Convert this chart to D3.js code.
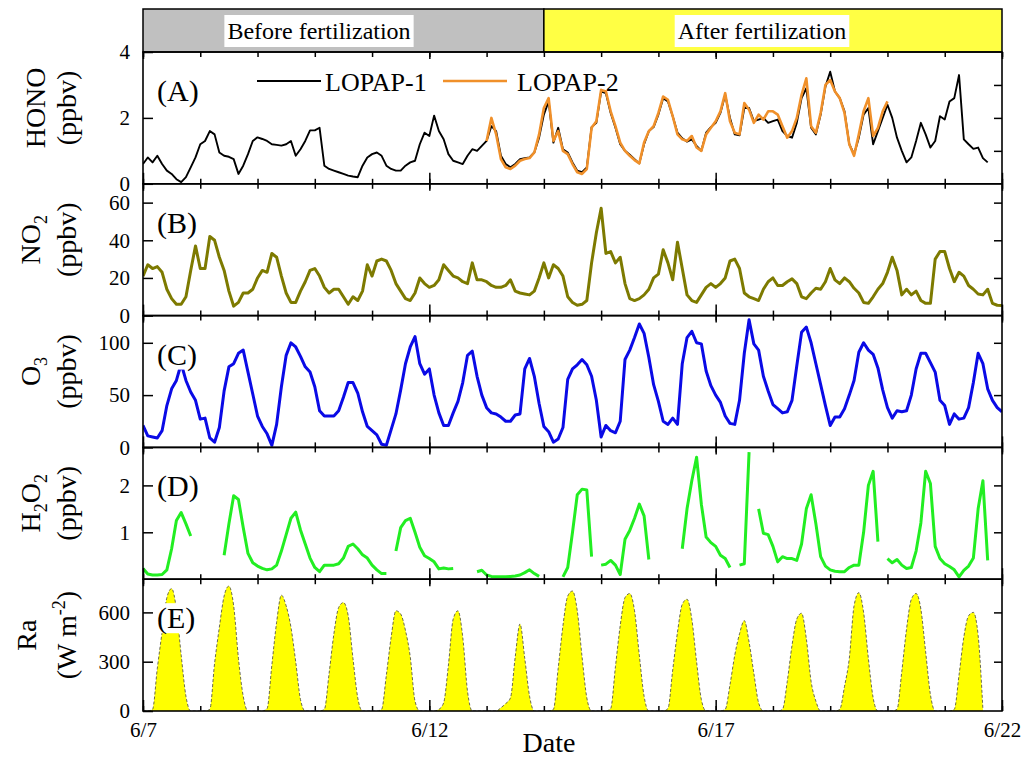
<!DOCTYPE html>
<meta charset="utf-8">
<head>
    <script type="text/javascript" src="https://cdn.jsdelivr.net/npm/d3@7/dist/d3.min.js"></script>
    <style>
        body { margin: 0; background: #fff; }
        text { font-family: "Liberation Serif", "Times New Roman", serif; fill: #000; }
    </style>
</head>
<body>
<div id="chart"></div>
<script>
    // time axis: hours since 6/7 00:00, one reading every 2 h
    var stepHours = 2;

    // HONO (ppbv), LOPAP-1
    var honoLopap1 = [
        0.6, 0.8, 0.65, 0.85, 0.6, 0.4, 0.3, 0.14, 0.05, 0.2, 0.5, 0.8,
        1.2, 1.3, 1.6, 1.5, 0.95, 0.85, 0.82, 0.75, 0.3, 0.55, 0.9, 1.3,
        1.41, 1.36, 1.3, 1.2, 1.18, 1.16, 1.2, 1.3, 0.85, 1.05, 1.3, 1.62,
        1.62, 1.7, 0.55, 0.45, 0.4, 0.35, 0.3, 0.25, 0.22, 0.2, 0.55, 0.8,
        0.9, 0.95, 0.85, 0.55, 0.45, 0.4, 0.4, 0.55, 0.65, 0.7, 1.2, 1.55,
        1.45, 2.07, 1.6, 1.35, 0.9, 0.7, 0.65, 0.6, 0.85, 1.05, 1.0, 1.15,
        1.3, 1.75, 1.6, 0.85, 0.6, 0.5, 0.6, 0.75, 0.78, 0.8, 0.95, 1.4,
        2.1, 2.5, 1.25, 1.7, 1.05, 0.95, 0.65, 0.4, 0.35, 0.5, 1.72, 1.85,
        2.8, 2.75, 2.15, 1.7, 1.2, 1.0, 0.88, 0.75, 0.62, 1.2, 1.6, 1.72,
        2.1, 2.6, 2.5, 2.05, 1.55, 1.38, 1.28, 1.35, 1.15, 1.0, 1.55, 1.72,
        1.85, 2.15, 2.7, 2.0, 1.5, 1.47, 2.3, 2.3, 1.9, 1.95, 2.0, 1.85,
        1.9, 1.95, 1.6, 1.45, 1.4, 1.85, 2.6, 2.9, 1.7, 1.5, 2.1, 2.95,
        3.4, 2.8, 2.6, 2.2, 1.2, 0.9, 1.4, 2.1, 2.3, 1.2, 1.6, 2.0,
        2.4, 2.0, 1.4, 1.0, 0.65, 0.8, 1.3, 1.85, 1.5, 1.1, 1.3, 2.05,
        1.95, 2.5, 2.6, 3.3, 1.35, 1.2, 1.06, 1.1, 0.78, 0.65, null, null,
        null
    ];

    // HONO (ppbv), LOPAP-2, starts 6/13 00:00
    var lopap2StartHour = 144;
    var honoLopap2 = [
        1.3, 2.0, 1.5, 0.75, 0.5, 0.45, 0.55, 0.7, 0.75, 0.78, 0.95, 1.5,
        2.3, 2.6, 1.3, 1.6, 1.0, 0.9, 0.6, 0.35, 0.3, 0.45, 1.7, 1.9,
        2.85, 2.8, 2.2, 1.75, 1.25, 1.0, 0.85, 0.72, 0.62, 1.25, 1.6, 1.75,
        2.15, 2.65, 2.55, 2.05, 1.5, 1.35, 1.3, 1.45, 1.1, 1.0, 1.5, 1.7,
        1.9, 2.2, 2.75, 1.9, 1.55, 1.5, 2.45, 2.25, 1.85, 2.1, 1.95, 2.2,
        2.2, 2.1, 1.75, 1.4, 1.6, 2.0, 2.7, 3.2, 1.75, 1.55, 2.15, 3.0,
        3.15, 2.8, 2.6, 2.15, 1.2, 0.85, 1.5, 2.2, 2.6, 1.45, 1.7, 2.2,
        2.5
    ];

    // NO2 (ppbv)
    var no2 = [
        21, 27, 25, 26, 23, 14, 9, 6, 6, 10, 24, 37,
        25, 25, 42, 40, 31, 24, 13, 5, 7, 12, 12, 14,
        20, 24, 23, 33, 31, 21, 12, 7, 7, 13, 18, 24,
        25, 21, 15, 12, 14, 14, 10, 6, 10, 8, 13, 27,
        21, 29, 30, 29, 24, 17, 13, 9, 8, 12, 20, 17,
        15, 16, 19, 27, 24, 21, 20, 18, 17, 28, 19, 19,
        18, 16, 15, 15, 16, 19, 13, 12, 11.5, 11, 13, 20,
        28, 20, 27, 25, 21, 10, 7, 5.5, 6, 8, 28, 44,
        57, 33, 34, 28, 31, 17, 9, 8, 9, 11, 14, 20,
        22, 35, 28, 19, 39, 25, 11, 8, 7, 11, 15, 17,
        15, 17, 20, 29, 30, 25, 12, 10, 9, 8, 14, 18,
        20, 16, 16, 18, 19.5, 17, 10, 9, 12, 14.5, 14, 18,
        25, 19, 17, 20, 18, 14.5, 12, 7, 6.5, 10, 14, 17,
        23, 31, 24, 11, 14, 11, 13, 8, 6.5, 6.5, 30, 34,
        34, 25, 18, 23, 21, 16, 14, 11.5, 11, 14, 6.5, 5.5,
        5.3
    ];

    // O3 (ppbv)
    var o3 = [
        21, 11, 10, 9, 16, 40, 56, 64, 80, 64, 53, 45,
        27, 28, 9, 5, 19, 54, 77, 80, 90, 93, 72, 51,
        30, 20, 13, 2, 22, 58, 88, 100, 96, 87, 77, 72,
        58, 35, 30, 30, 30, 35, 48, 62, 62, 52, 34, 20,
        16, 12, 3, 2, 17, 32, 55, 80, 96, 106, 80, 70,
        75, 50, 33, 21, 21, 33, 44, 62, 88, 92, 68, 50,
        38, 33, 32, 29, 25, 25, 31, 32, 75, 85, 68, 42,
        20, 15, 5, 8, 19, 65, 75, 79, 84, 79, 68, 45,
        10, 21, 16, 14, 25, 84, 93, 105, 118, 109, 86, 60,
        44, 25, 22, 28, 22, 80, 105, 111, 100, 99, 73, 59,
        50, 43, 30, 23, 22, 45, 90, 122, 99, 93, 68, 54,
        41, 37, 33, 34, 45, 78, 110, 115, 100, 80, 60, 40,
        21, 29, 29, 37, 50, 64, 91, 100, 93, 89, 76, 55,
        38, 28, 35, 34, 35, 50, 75, 90, 90, 81, 72, 45,
        40, 22, 32, 27, 28, 38, 62, 90, 80, 56, 45, 38,
        34
    ];

    // H2O2 (ppbv), null = no data
    var h2o2 = [
        0.23, 0.11, 0.09, 0.09, 0.1, 0.2, 0.65, 1.25, 1.42, 1.18, 0.92, null,
        null, null, null, null, null, 0.51, 1.18, 1.78, 1.7, 1.1, 0.55, 0.35,
        0.28, 0.23, 0.2, 0.22, 0.3, 0.6, 0.95, 1.3, 1.43, 1.05, 0.75, 0.45,
        0.25, 0.16, 0.3, 0.3, 0.3, 0.33, 0.45, 0.7, 0.75, 0.65, 0.52, 0.45,
        0.3, 0.2, 0.12, 0.12, null, 0.6, 1.1, 1.25, 1.3, 1.0, 0.68, 0.5,
        0.44, 0.37, 0.22, 0.24, 0.22, 0.23, null, null, null, null, 0.16, 0.19,
        0.09, 0.06, 0.05, 0.05, 0.05, 0.06, 0.07, 0.09, 0.14, 0.2, 0.12, 0.06,
        null, null, null, null, 0.05, 0.25, 1.0, 1.8, 1.92, 1.9, 0.48, null,
        0.3, 0.32, 0.4, 0.3, 0.1, 0.85, 1.04, 1.3, 1.6, 1.35, 0.42, null,
        null, null, null, null, null, 0.65, 1.5, 2.1, 2.6, 1.6, 0.9, 0.78,
        0.7, 0.51, 0.44, 0.25, null, 0.3, 0.33, 2.71, null, 1.5, 0.98, 0.95,
        0.7, 0.37, 0.48, 0.44, 0.44, 0.4, 0.75, 1.5, 1.8, 1.18, 0.48, 0.28,
        0.2, 0.17, 0.16, 0.16, 0.25, 0.3, 0.3, 1.0, 2.0, 2.3, 0.8, null,
        0.44, 0.35, 0.42, 0.3, 0.23, 0.25, 0.6, 1.2, 2.3, 2.04, 0.7, 0.44,
        0.33, 0.27, 0.2, 0.05, 0.19, 0.28, 0.45, 1.5, 2.1, 0.4, null, null,
        null
    ];

    // Ra (W m-2), one row per day
    var ra = [
        0, 0, 10, 260, 480, 690, 745, 620, 340, 90, 0, 0,
        0, 0, 10, 290, 510, 700, 760, 640, 320, 90, 0, 0,
        0, 0, 15, 280, 540, 705, 640, 510, 300, 70, 0, 0,
        0, 0, 10, 230, 470, 630, 660, 580, 320, 80, 0, 0,
        0, 0, 10, 220, 450, 610, 590, 490, 330, 60, 0, 0,
        0, 0, 10, 50, 280, 560, 610, 450, 120, 0, 0, 0,
        0, 0, 0, 20, 45, 80, 330, 530, 320, 90, 0, 0,
        0, 0, 10, 260, 520, 700, 730, 610, 330, 80, 0, 0,
        0, 0, 15, 270, 520, 690, 715, 610, 340, 90, 0, 0,
        0, 0, 15, 250, 480, 650, 680, 560, 300, 70, 0, 0,
        0, 0, 10, 160, 340, 470, 550, 420, 230, 50, 0, 0,
        0, 0, 10, 180, 400, 560, 595, 440, 180, 60, 0, 0,
        0, 0, 10, 150, 320, 640, 720, 600, 320, 80, 0, 0,
        0, 0, 10, 240, 500, 680, 715, 620, 360, 100, 0, 0,
        0, 0, 10, 220, 450, 580, 600, 460, 10, null, null, null,
        null
    ];

    var dayTicks = d3.range(0, 361, 24);
    var majorTicks = [0, 120, 240, 360];
    var majorLabels = ["6/7", "6/12", "6/17", "6/22"];
    var periodNames = ["Before fertilization", "After fertilization"];
    var periodBounds = [0, 168, 360];
    var seriesNames = ["LOPAP-1", "LOPAP-2"];

    // layout
    var w = 1029, h = 757;
    var left = 143, right = 1002, top0 = 52, panelH = 131.8;

    var svg = d3.select("#chart").append("svg")
        .attr("width", w).attr("height", h);

    var x = d3.scaleLinear().domain([0, 360]).range([left, right]);

    var panels = [
        {tag: "(A)", domain: [0, 4], labels: [0, 2, 4], rticks: [1, 2, 3], tx: 45,
            title: [[["HONO", 0]], [["(ppbv)", 0]]],
            series: [
                {values: honoLopap1, start: 0, color: "#000", width: 1.9},
                {values: honoLopap2, start: lopap2StartHour, color: "#f0902a", width: 2.6}
            ]},
        {tag: "(B)", domain: [0, 70], labels: [0, 20, 40, 60], rticks: [20, 40, 60], tx: 40,
            title: [[["NO", 0], ["2", 1]], [["(ppbv)", 0]]],
            series: [{values: no2, start: 0, color: "#7d7a00", width: 3}]},
        {tag: "(C)", domain: [0, 126], labels: [0, 50, 100], rticks: [50, 100], tx: 40,
            title: [[["O", 0], ["3", 1]], [["(ppbv)", 0]]],
            series: [{values: o3, start: 0, color: "#0a0ae6", width: 3}]},
        {tag: "(D)", domain: [0, 2.81], labels: [1, 2], rticks: [1, 2], tx: 40,
            title: [[["H", 0], ["2", 1], ["O", 0], ["2", 1]], [["(ppbv)", 0]]],
            series: [{values: h2o2, start: 0, color: "#22ee22", width: 3}]},
        {tag: "(E)", domain: [0, 802], labels: [0, 300, 600], rticks: [300, 600], tx: 36,
            title: [[["Ra", 0]], [["(W m", 0], ["-2", -1], [")", 0]]],
            series: [{values: ra, start: 0, color: "#ffff00", area: true}]}
    ];

    // period banner
    var banner = svg.append("g");
    var bannerColors = ["#c0c0c0", "#ffff44"];
    var bannerTextX = [319, 762];
    periodNames.forEach(function (name, k) {
        banner.append("rect")
            .attr("x", x(periodBounds[k])).attr("y", 9)
            .attr("width", x(periodBounds[k + 1]) - x(periodBounds[k]))
            .attr("height", top0 - 9)
            .attr("fill", bannerColors[k])
            .attr("stroke", "#000").attr("stroke-width", 1.5);
        var t = banner.append("text")
            .attr("x", bannerTextX[k]).attr("y", 39)
            .attr("text-anchor", "middle")
            .style("font-size", "24px")
            .text(name);
        var bb = t.node().getBBox();
        banner.insert("rect", "text:last-of-type")
            .attr("x", bb.x - 3).attr("y", 15)
            .attr("width", bb.width + 6).attr("height", 32)
            .attr("fill", "#fff");
    });

    panels.forEach(function (p, k) {
        var y0 = top0 + k * panelH, y1 = y0 + panelH;
        var y = d3.scaleLinear().domain(p.domain).range([y1, y0]);
        var g = svg.append("g");

        svg.append("clipPath").attr("id", "clip" + k)
            .append("rect")
            .attr("x", left).attr("y", y0)
            .attr("width", right - left).attr("height", panelH);

        var plot = g.append("g").attr("clip-path", "url(#clip" + k + ")");

        p.series.forEach(function (s) {
            var pts = s.values.map(function (v, i) { return [s.start + i * stepHours, v]; });
            if (s.area) {
                var area = d3.area()
                    .defined(function (d) { return d[1] != null; })
                    .x(function (d) { return x(d[0]); })
                    .y0(y(0))
                    .y1(function (d) { return y(d[1]); })
                    .curve(d3.curveMonotoneX);
                plot.append("path").datum(pts)
                    .attr("d", area)
                    .attr("fill", s.color);
                plot.append("path").datum(pts)
                    .attr("d", area.lineY1())
                    .attr("fill", "none")
                    .attr("stroke", "#444")
                    .attr("stroke-width", 0.8)
                    .attr("stroke-dasharray", "3,2");
            } else {
                var line = d3.line()
                    .defined(function (d) { return d[1] != null; })
                    .x(function (d) { return x(d[0]); })
                    .y(function (d) { return y(d[1]); });
                plot.append("path").datum(pts)
                    .attr("d", line)
                    .attr("fill", "none")
                    .attr("stroke", s.color)
                    .attr("stroke-width", s.width)
                    .attr("stroke-linejoin", "round");
            }
        });

        // panel tag with white box
        var tag = g.append("text")
            .attr("x", 157).attr("y", y0 + 49)
            .style("font-size", "30px")
            .text(p.tag);
        var tb = tag.node().getBBox();
        g.insert("rect", "text")
            .attr("x", tb.x - 1).attr("y", tb.y + 2)
            .attr("width", tb.width + 2).attr("height", tb.height - 4)
            .attr("fill", "#fff");

        // legend in panel A
        if (k === 0) {
            var legX = [257, 443], legTextX = [325, 517];
            p.series.forEach(function (s, j) {
                g.append("line")
                    .attr("x1", legX[j]).attr("x2", legX[j] + 64)
                    .attr("y1", 81).attr("y2", 81)
                    .attr("stroke", s.color).attr("stroke-width", s.width);
                g.append("text")
                    .attr("x", legTextX[j]).attr("y", 91)
                    .style("font-size", "26px")
                    .text(seriesNames[j]);
            });
        }

        // frame
        g.append("rect")
            .attr("x", left).attr("y", y0)
            .attr("width", right - left).attr("height", panelH)
            .attr("fill", "none").attr("stroke", "#000").attr("stroke-width", 1.6);

        // y axes
        var yl = g.append("g").attr("transform", "translate(" + left + ",0)")
            .call(d3.axisLeft(y).tickValues(p.labels).tickSizeInner(-10).tickSizeOuter(0)
                .tickPadding(13).tickFormat(d3.format("d")));
        var yr = g.append("g").attr("transform", "translate(" + right + ",0)")
            .call(d3.axisRight(y).tickValues(p.rticks).tickSizeInner(-8).tickSizeOuter(0)
                .tickFormat(""));
        [yl, yr].forEach(function (a) {
            a.select(".domain").remove();
            a.selectAll("line").attr("stroke-width", 1.5);
        });
        yl.selectAll("text").style("font-size", "21px")
            .attr("font-family", null).attr("fill", "#000");

        // x ticks on bottom and top of each panel
        var xb = g.append("g").attr("transform", "translate(0," + y1 + ")")
            .call(d3.axisBottom(x).tickValues(dayTicks).tickSize(-5).tickFormat(""));
        var xbm = g.append("g").attr("transform", "translate(0," + y1 + ")")
            .call(d3.axisBottom(x).tickValues(majorTicks).tickSize(-11).tickPadding(11)
                .tickFormat(function (d, i) { return k === panels.length - 1 ? majorLabels[i] : ""; }));
        var xt = g.append("g").attr("transform", "translate(0," + y0 + ")")
            .call(d3.axisTop(x).tickValues(dayTicks).tickSize(-5).tickFormat(""));
        var xtm = g.append("g").attr("transform", "translate(0," + y0 + ")")
            .call(d3.axisTop(x).tickValues(majorTicks).tickSize(-7).tickFormat(""));
        [xb, xbm, xt, xtm].forEach(function (a) {
            a.select(".domain").remove();
            a.selectAll("line").attr("stroke-width", 1.5);
        });
        xbm.selectAll("text").style("font-size", "21px")
            .attr("font-family", null).attr("fill", "#000");

        // y title, two rotated lines
        var cy = (y0 + y1) / 2 - 10;
        [p.tx, 76].forEach(function (tx, li) {
            var t = svg.append("text")
                .attr("transform", "translate(" + tx + "," + cy + ") rotate(-90)")
                .attr("text-anchor", "middle")
                .style("font-size", "28px");
            var shift = 0;
            p.title[li].forEach(function (part) {
                var off = part[1] === 1 ? 7 : part[1] === -1 ? -11 : 0;
                t.append("tspan")
                    .attr("dy", off - shift)
                    .style("font-size", part[1] === 0 ? "28px" : "18px")
                    .text(part[0]);
                shift = off;
            });
        });
    });

    svg.append("text")
        .attr("x", 549).attr("y", 752)
        .attr("text-anchor", "middle")
        .style("font-size", "28px")
        .text("Date");
</script>
</body>
</html>
